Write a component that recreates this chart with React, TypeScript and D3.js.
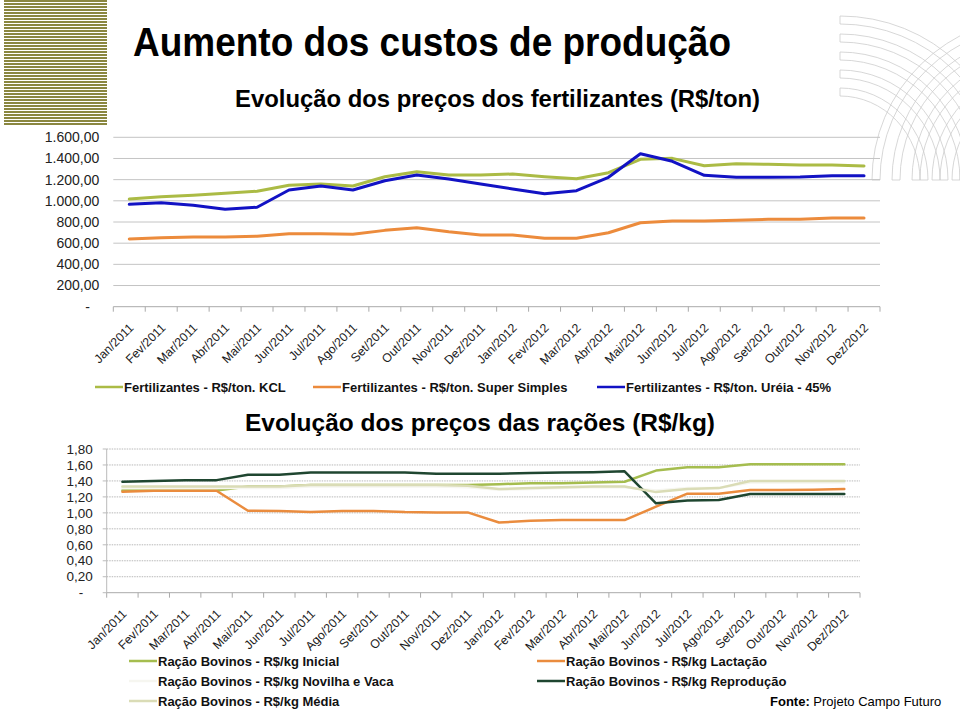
import React from 'react';
import * as d3 from 'd3';

// categorias (meses)
const months = ['Jan', 'Fev', 'Mar', 'Abr', 'Mai', 'Jun', 'Jul', 'Ago', 'Set', 'Out', 'Nov', 'Dez'];
const years = ['2011', '2012'];
const categories = years.flatMap(y => months.map(m => `${m}/${y}`));

// Fertilizantes (R$/ton)
const kcl = [1017, 1039, 1052, 1071, 1090, 1147, 1159, 1140, 1228, 1275, 1244, 1244,
  1253, 1228, 1209, 1266, 1392, 1401, 1332, 1351, 1345, 1338, 1338, 1329];
const superSimples = [640, 652, 658, 658, 665, 690, 690, 684, 721, 746, 708, 677,
  677, 646, 646, 699, 793, 809, 809, 816, 825, 825, 838, 838];
const ureia = [967, 982, 958, 920, 939, 1102, 1140, 1102, 1190, 1244, 1206, 1159,
  1112, 1067, 1096, 1222, 1445, 1373, 1241, 1222, 1222, 1225, 1237, 1237];
const fertTicks = [0, 200, 400, 600, 800, 1000, 1200, 1400, 1600];

// Rações (R$/kg)
const inicial = [1.28, 1.28, 1.28, 1.28, 1.33, 1.33, 1.35, 1.35, 1.35, 1.35, 1.35, 1.35,
  1.36, 1.37, 1.37, 1.38, 1.39, 1.53, 1.57, 1.57, 1.61, 1.61, 1.61, 1.61];
const lactacao = [1.265, 1.277, 1.277, 1.277, 1.027, 1.023, 1.01, 1.023, 1.023, 1.01, 1.006, 1.006,
  0.88, 0.9, 0.91, 0.91, 0.91, 1.077, 1.24, 1.24, 1.286, 1.286, 1.29, 1.3];
const novilhaVaca = [1.31, 1.31, 1.31, 1.31, 1.31, 1.31, 1.33, 1.33, 1.33, 1.33, 1.33, 1.32,
  1.29, 1.3, 1.31, 1.32, 1.32, 1.28, 1.31, 1.31, 1.38, 1.38, 1.38, 1.38];
const reproducao = [1.39, 1.4, 1.41, 1.41, 1.478, 1.478, 1.505, 1.505, 1.505, 1.505, 1.49, 1.49,
  1.49, 1.5, 1.507, 1.51, 1.52, 1.12, 1.155, 1.16, 1.236, 1.236, 1.236, 1.236];
const media = [1.33, 1.33, 1.33, 1.33, 1.33, 1.33, 1.35, 1.35, 1.35, 1.35, 1.35, 1.34,
  1.3, 1.31, 1.32, 1.33, 1.33, 1.26, 1.3, 1.31, 1.4, 1.4, 1.4, 1.4];
const racaoTicks = [0, 0.2, 0.4, 0.6, 0.8, 1.0, 1.2, 1.4, 1.6, 1.8];

const FONT = "'Liberation Sans', Arial, sans-serif";

const br = d3.formatLocale({ decimal: ',', thousands: '.', grouping: [3], currency: ['R$', ''] });
const fmtTon = (v: number) => (v === 0 ? '-' : br.format(',.2f')(v));
const fmtKg = (v: number) => (v === 0 ? '-' : br.format('.2f')(v));

type Serie = { values: number[]; color: string; width: number };

function LineChart({ left, right, top, bottom, max, ticks, fmt, series, dotted, yAxis, yFont }: {
  left: number; right: number; top: number; bottom: number; max: number; ticks: number[];
  fmt: (v: number) => string; series: Serie[]; dotted: boolean; yAxis: boolean; yFont: number;
}) {
  const x = d3.scaleBand().domain(categories).range([left, right]);
  const y = d3.scaleLinear().domain([0, max]).range([bottom, top]);
  const cx = (i: number) => (x(categories[i]) as number) + x.bandwidth() / 2;
  const line = d3.line<number>().x((_, i) => cx(i)).y(d => y(d));

  return (
    <g fontFamily={FONT}>
      {ticks.filter(t => t > 0).map(t => (
        <line key={t} x1={left} x2={right} y1={y(t)} y2={y(t)}
          stroke={dotted ? '#b8b8b8' : '#c4c4c4'} strokeWidth={1}
          strokeDasharray={dotted ? '1.5,1' : undefined} />
      ))}
      {yAxis && <line x1={left} x2={left} y1={top} y2={bottom} stroke="#bbbbbb" />}
      {yAxis && ticks.map(t => (
        <line key={'yt' + t} x1={left - 4} x2={left} y1={y(t)} y2={y(t)} stroke="#bbbbbb" />
      ))}
      <line x1={left} x2={right} y1={bottom} y2={bottom} stroke="#aaaaaa" />
      {d3.range(categories.length + 1).map(i => (
        <line key={'xt' + i} x1={left + i * x.bandwidth()} x2={left + i * x.bandwidth()}
          y1={bottom} y2={bottom + 5} stroke="#aaaaaa" />
      ))}
      {ticks.map(t => (
        <text key={'yl' + t} x={t === 0 ? left - 23.5 : left - 14} y={y(t)} dy="0.35em"
          textAnchor="end" fontSize={yFont} fill="#222">{fmt(t)}</text>
      ))}
      {categories.map((c, i) => (
        <text key={c} transform={`translate(${cx(i) + 2},${bottom + 19}) rotate(-45)`}
          textAnchor="end" dy="0.35em" fontSize={12.3} fill="#1a1a1a">{c}</text>
      ))}
      {series.map((s, k) => (
        <path key={k} d={line(s.values) || ''} fill="none" stroke={s.color}
          strokeWidth={s.width} strokeLinejoin="round" strokeLinecap="round" />
      ))}
    </g>
  );
}

function LegendItem({ x, y, color, label }: { x: number; y: number; color: string; label: string }) {
  return (
    <g fontFamily={FONT}>
      <line x1={x} x2={x + 28} y1={y} y2={y} stroke={color} strokeWidth={2.5} />
      <text x={x + 29} y={y} dy="0.35em" fontSize={13} fontWeight="bold" fill="#111">{label}</text>
    </g>
  );
}

// faixas decorativas (canto superior direito)
function bandPath(cx: number, cy: number, rx: number, ry: number, w: number) {
  return `M${cx},${cy - ry} A${rx},${ry} 0 0 1 ${cx + rx},${cy} L${cx + rx - w},${cy} ` +
    `A${rx - w},${ry - w} 0 0 0 ${cx},${cy - ry + w} Z`;
}

export default function App() {
  const bands = [[168, 164], [148, 146], [128, 128], [108, 110], [88, 92]];
  return (
    <div style={{ position: 'absolute', left: 0, top: 0 }}>
      <svg width={960} height={711} style={{ display: 'block', background: '#fff' }}>
        {/* listras à esquerda */}
        {d3.range(0, 124, 3).map(y => (
          <rect key={y} x={4} y={y} width={103} height={2} fill="#8a8740" />
        ))}
        {/* arcos à direita */}
        <g fill="none" stroke="#cdcdcd" strokeWidth={0.8}>
          {bands.map(([rx, ry], k) => (
            <path key={k} d={bandPath(840, 180, rx, ry, 8)} />
          ))}
          <g transform="translate(1880,0) scale(-1,1)">
            {bands.map(([rx, ry], k) => (
              <path key={k} d={bandPath(840, 180, rx, ry, 8)} />
            ))}
          </g>
        </g>

        <text x={133} y={56} fontFamily={FONT} fontWeight="bold" fontSize={41} fill="#000"
          textLength={598} lengthAdjust="spacingAndGlyphs">Aumento dos custos de produção</text>
        <text x={235} y={107} fontFamily={FONT} fontWeight="bold" fontSize={24} fill="#000"
          textLength={525} lengthAdjust="spacingAndGlyphs">Evolução dos preços dos fertilizantes (R$/ton)</text>

        <LineChart left={113.3} right={880} top={137.3} bottom={306.7} max={1600}
          ticks={fertTicks} fmt={fmtTon} dotted={false} yAxis={false} yFont={14}
          series={[
            { values: kcl, color: '#abbb45', width: 3 },
            { values: superSimples, color: '#ec8b3c', width: 3 },
            { values: ureia, color: '#1212c4', width: 3 },
          ]} />
        <LegendItem x={95} y={387} color="#abbb45" label="Fertilizantes - R$/ton. KCL" />
        <LegendItem x={313} y={387} color="#ec8b3c" label="Fertilizantes - R$/ton. Super Simples" />
        <LegendItem x={597} y={387} color="#1212c4" label="Fertilizantes - R$/ton. Uréia - 45%" />

        <text x={245} y={431} fontFamily={FONT} fontWeight="bold" fontSize={24} fill="#000"
          textLength={470} lengthAdjust="spacingAndGlyphs">Evolução dos preços das rações (R$/kg)</text>

        <LineChart left={106.7} right={860} top={449} bottom={592.7} max={1.8}
          ticks={racaoTicks} fmt={fmtKg} dotted={true} yAxis={true} yFont={13.5}
          series={[
            { values: inicial, color: '#a5bd4f', width: 2.5 },
            { values: lactacao, color: '#ea8c3e', width: 2.5 },
            { values: novilhaVaca, color: '#f6f6f0', width: 2.5 },
            { values: reproducao, color: '#1f4630', width: 2.5 },
            { values: media, color: '#dadcb6', width: 2.5 },
          ]} />
        <LegendItem x={129} y={661} color="#a5bd4f" label="Ração Bovinos - R$/kg Inicial" />
        <LegendItem x={129} y={681} color="#f6f6f0" label="Ração Bovinos - R$/kg Novilha e Vaca" />
        <LegendItem x={129} y={701} color="#dadcb6" label="Ração Bovinos - R$/kg Média" />
        <LegendItem x={537} y={661} color="#ea8c3e" label="Ração Bovinos - R$/kg Lactação" />
        <LegendItem x={537} y={681} color="#1f4630" label="Ração Bovinos - R$/kg Reprodução" />

        <text x={770} y={706} fontFamily={FONT} fontSize={13} fill="#000">
          <tspan fontWeight="bold">Fonte:</tspan> Projeto Campo Futuro
        </text>
      </svg>
    </div>
  );
}
